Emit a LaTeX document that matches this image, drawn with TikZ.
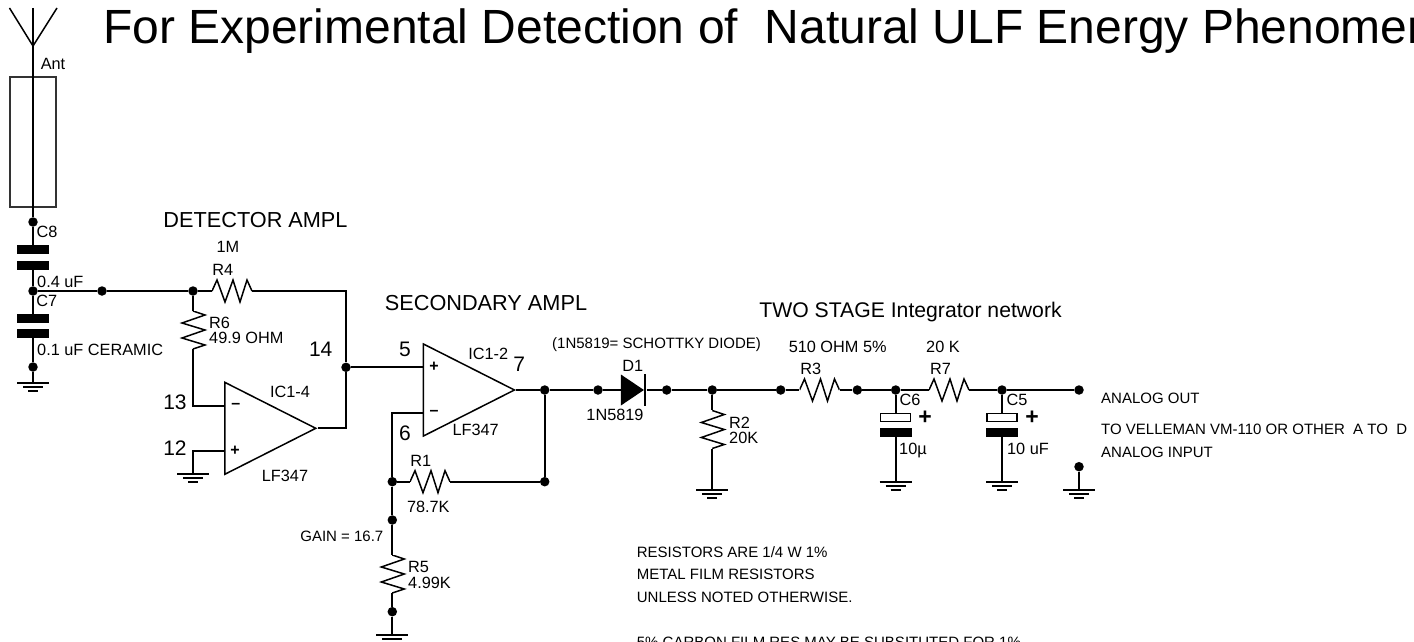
\documentclass[tikz,border=0pt]{standalone}
\usepackage{fontspec}
\setsansfont{Liberation Sans}
\usetikzlibrary{shapes.geometric}

\begin{document}
\begin{tikzpicture}[
    x=1pt, y=-1pt,
    every node/.style={font=\sffamily\fontsize{16.3}{16}\selectfont, inner sep=0pt},
    lbl/.style = {anchor=center},
    lblw/.style = {anchor=west},
    note/.style = {anchor=west, font=\sffamily\fontsize{15}{15}\selectfont},
    pinnum/.style = {font=\sffamily\fontsize{21}{21}\selectfont},
    heading/.style = {font=\sffamily\fontsize{21.7}{22}\selectfont},
    sign/.style = {font=\sffamily\bfseries\fontsize{16}{16}\selectfont},
    bigsign/.style = {font=\sffamily\bfseries\fontsize{23}{23}\selectfont},
    wire/.style = {line width=2pt},
    dot/.style = {circle, fill=black, minimum size=9.5pt},
    plate/.style = {rectangle, fill=black, minimum width=32pt, minimum height=9pt},
    polplate/.style = {rectangle, draw=black, fill=white, line width=1.2pt, minimum width=30pt, minimum height=8pt},
    opamp/.style = {isosceles triangle, isosceles triangle stretches, draw=black, line width=1.5pt,
        minimum width=92pt, minimum height=91pt, anchor=lower side},
    reshor/.style = {rectangle, minimum width=40pt, minimum height=30pt, path picture={
        \draw[line width=1.5pt, shift={(path picture bounding box.center)}]
          (-20,0) -- (-15,-11) -- (-7,11) -- (1,-11) -- (8,11) -- (15,-11) -- (20,0);}},
    resver/.style = {rectangle, minimum width=30pt, minimum height=38pt, path picture={
        \draw[line width=1.5pt, shift={(path picture bounding box.center)}]
          (0,-19) -- (12,-15) -- (-11,-7) -- (12,0) -- (-11,8) -- (12,15) -- (0,19);}},
    gnd/.style = {rectangle, anchor=north, minimum width=33pt, minimum height=10pt, path picture={
        \draw[line width=2pt, shift={(path picture bounding box.center)}]
          (-16,-4) -- (16,-4) (-10,0) -- (10,0) (-5,3.7) -- (5,3.7);}}
]

  \useasboundingbox (0,0) rectangle (1414,642);
  \clip (0,0) rectangle (1414,642);

  \node (title) [note, font=\sffamily\fontsize{48}{50}\selectfont] at (103,31) {For Experimental Detection of\ \ Natural ULF Energy Phenomena};

  \coordinate (antL) at (9.5,8);
  \coordinate (antR) at (57,8);
  \coordinate (antV) at (33,46);
  \coordinate (antT) at (33,8);
  \node (antbox) [rectangle, draw=black!80, line width=1.3pt, minimum width=46pt, minimum height=130pt] at (33,142) {};
  \node (nC8) [dot] at (33,222) {};
  \node (C8a) [plate] at (33,249.5) {};
  \node (C8b) [plate] at (33,265) {};
  \node (nC7) [dot] at (33,291) {};
  \node (C7a) [plate] at (33,318.5) {};
  \node (C7b) [plate] at (33,333) {};
  \node (nG1) [dot] at (33,367) {};
  \node (G1) [gnd] at (33,382) {};
  \node (n2) [dot] at (102,291) {};
  \node (n3) [dot] at (193,291) {};
  \node (R4) [reshor] at (232,291) {};
  \node (R6) [resver] at (193,330) {};
  \node (n14) [dot] at (346,367.3) {};

  \node (ic4) [opamp] at (224,428.3) {};
  \coordinate (ic4minus) at (224,405.7);
  \coordinate (ic4plus) at (224,451);
  \node (G2) [gnd] at (193,473) {};

  \node (ic2) [opamp] at (422.7,390) {};
  \coordinate (ic2plus) at (422.7,367.3);
  \coordinate (ic2minus) at (422.7,413.3);
  \node (n7) [dot] at (544.7,390) {};
  \node (n8) [dot] at (544.7,481.7) {};
  \node (n6) [dot] at (392.3,481.7) {};
  \node (R1) [reshor] at (430,481.7) {};
  \node (n9) [dot] at (392.3,520) {};
  \node (R5) [resver] at (392.3,574) {};
  \node (n10) [dot] at (392.3,611.7) {};
  \node (G3) [gnd] at (392.3,634) {};

  \node (n11) [dot] at (598,390) {};
  \node (D1) [isosceles triangle, isosceles triangle stretches, fill=black, minimum width=31pt, minimum height=23pt, anchor=lower side] at (620.7,390) {};
  \node (D1bar) [rectangle, fill=black, minimum width=2.8pt, minimum height=32pt] at (645,390) {};
  \node (n12) [dot] at (666.7,390) {};
  \node (n13) [dot] at (712.3,390) {};
  \node (R2) [resver] at (712.3,429.5) {};
  \node (G4) [gnd] at (712.3,489) {};
  \node (n15) [dot] at (780.7,390) {};
  \node (R3) [reshor] at (819.5,390) {};
  \node (n16) [dot] at (857.3,390) {};
  \node (n17) [dot] at (895.7,390) {};
  \node (C6a) [polplate] at (895.7,417.5) {};
  \node (C6b) [plate] at (895.7,432.5) {};
  \node (G5) [gnd] at (895.7,481) {};
  \node (R7) [reshor] at (949,390) {};
  \node (n18) [dot] at (1002,390) {};
  \node (C5a) [polplate] at (1002,417.5) {};
  \node (C5b) [plate] at (1002,432.5) {};
  \node (G6) [gnd] at (1002,481) {};
  \node (nOut) [dot] at (1079,390) {};
  \node (nIn) [dot] at (1079,466.7) {};
  \node (G7) [gnd] at (1079,489) {};

  \draw[line width=1.5pt] (antL) -- (antV) -- (antR);
  \draw[wire] (antT) -- (nC8);
  \draw[wire] (nC8) -- (C8a);
  \draw[wire] (C8b) -- (nC7);
  \draw[wire] (nC7) -- (C7a);
  \draw[wire] (C7b) -- (nG1);
  \draw[wire] (nG1) -- (G1.north);
  \draw[wire] (nC7) -- (n2);
  \draw[wire] (n2) -- (n3);
  \draw[wire] (n3) -- (R4.west);
  \draw[wire] (n3) -- (R6.north);
  \draw[wire] (R4.east) -| (n14);
  \draw[wire] (R6.south) |- (ic4minus);
  \draw[wire] (ic4plus) -| (G2.north);
  \draw[wire] (ic4.apex) -| (n14);
  \draw[wire] (n14) -- (ic2plus);
  \draw[wire] (ic2minus) -| (n6);
  \draw[wire] (n6) -- (R1.west);
  \draw[wire] (R1.east) -- (n8);
  \draw[wire] (n8) -- (n7);
  \draw[wire] (ic2.apex) -- (n7);
  \draw[wire] (n6) -- (n9);
  \draw[wire] (n9) -- (R5.north);
  \draw[wire] (R5.south) -- (n10);
  \draw[wire] (n10) -- (G3.north);
  \draw[wire] (n7) -- (n11);
  \draw[wire] (n11) -- (D1.lower side);
  \draw[wire] (D1bar) -- (n12);
  \draw[wire] (n12) -- (n13);
  \draw[wire] (n13) -- (n15);
  \draw[wire] (n13) -- (R2.north);
  \draw[wire] (R2.south) -- (G4.north);
  \draw[wire] (n15) -- (R3.west);
  \draw[wire] (R3.east) -- (n16);
  \draw[wire] (n16) -- (n17);
  \draw[wire] (n17) -- (C6a);
  \draw[wire] (C6b) -- (G5.north);
  \draw[wire] (n17) -- (R7.west);
  \draw[wire] (R7.east) -- (n18);
  \draw[wire] (n18) -- (C5a);
  \draw[wire] (C5b) -- (G6.north);
  \draw[wire] (n18) -- (nOut);
  \draw[wire] (nIn) -- (G7.north);

  \node (tAnt) [lbl] at (53,64) {Ant};
  \node (tC8) [lbl] at (47,231.7) {C8};
  \node (tC8v) [lblw] at (37,281.7) {0.4 uF};
  \node (tC7) [lbl] at (46.7,300.7) {C7};
  \node (tC7v) [lblw] at (37,350) {0.1 uF CERAMIC};
  \node (tDet) [heading] at (255.5,220) {DETECTOR AMPL};
  \node (t1M) [lbl] at (228,247) {1M};
  \node (tR4) [lbl] at (222.7,270) {R4};
  \node (tR6) [lblw] at (209,323.3) {R6};
  \node (tR6v) [lblw] at (209,338.3) {49.9 OHM};
  \node (t14) [pinnum] at (320.7,349.3) {14};
  \node (t13) [pinnum] at (175,402.7) {13};
  \node (t12) [pinnum] at (175,448) {12};
  \node (tIC4) [lbl] at (290,392) {IC1-4};
  \node (tLF4) [lbl] at (285,475.7) {LF347};
  \node (tm4) [sign] at (235.7,405.7) {--};
  \node (tp4) [sign] at (235,451) {+};

  \node (tSec) [heading] at (486,303) {SECONDARY AMPL};
  \node (t5) [pinnum] at (405,349.3) {5};
  \node (t6) [pinnum] at (405,433.3) {6};
  \node (t7) [pinnum] at (519.3,364.3) {7};
  \node (tIC2) [lbl] at (488.3,354) {IC1-2};
  \node (tLF2) [lbl] at (475.7,430) {LF347};
  \node (tp2) [sign] at (434,367) {+};
  \node (tm2) [sign] at (434,413.3) {--};
  \node (tR1) [lbl] at (420.7,460.7) {R1};
  \node (tR1v) [lbl] at (428.3,506.7) {78.7K};
  \node (tGain) [note, anchor=east] at (383.5,536) {GAIN = 16.7};
  \node (tR5) [lblw] at (408,567) {R5};
  \node (tR5v) [lblw] at (408,582.7) {4.99K};

  \node (tSch) [note] at (552,345) {(1N5819= SCHOTTKY DIODE)};
  \node (tD1) [lbl] at (632.7,365.7) {D1};
  \node (tD1v) [lbl] at (615,415) {1N5819};
  \node (tR2) [lblw] at (729,422.7) {R2};
  \node (tR2v) [lblw] at (729,438.3) {20K};
  \node (tInt) [heading, font=\sffamily\fontsize{21.2}{22}\selectfont] at (910.5,312.5) {TWO STAGE Integrator network};
  \node (t510) [lbl] at (837.7,346.7) {510 OHM 5\%};
  \node (tR3) [lbl] at (810.7,369) {R3};
  \node (t20K) [lbl] at (943,346.7) {20 K};
  \node (tR7) [lbl] at (940.6,369) {R7};
  \node (tC6) [lbl] at (910,400) {C6};
  \node (tC6p) [bigsign] at (925,418) {+};
  \node (tC6v) [lbl] at (913,450) {10µ};
  \node (tC5) [lbl] at (1017,400) {C5};
  \node (tC5p) [bigsign] at (1032,418) {+};
  \node (tC5v) [lbl] at (1028,449) {10 uF};

  \node (tOut) [note] at (1101,398) {ANALOG OUT};
  \node (tVel) [note] at (1101,429) {TO VELLEMAN VM-110 OR OTHER\ \ A TO\ \ D};
  \node (tInp) [note] at (1101,452) {ANALOG INPUT};

  \node (tN1) [note] at (636.7,551.7) {RESISTORS ARE 1/4 W 1\%};
  \node (tN2) [note] at (636.7,574.3) {METAL FILM RESISTORS};
  \node (tN3) [note] at (636.7,597) {UNLESS NOTED OTHERWISE.};
  \node (tN4) [note] at (636.7,642) {5\% CARBON FILM RES MAY BE SUBSITUTED FOR 1\%};

\end{tikzpicture}
\end{document}
